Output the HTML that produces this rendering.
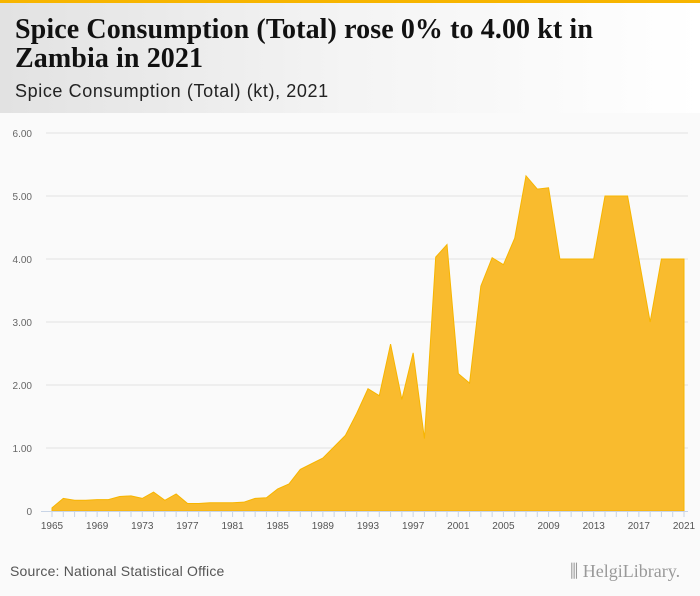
<!DOCTYPE html>
<html><head><meta charset="utf-8"><style>
body{margin:0;width:700px;height:596px;background:#fafafa;font-family:"Liberation Sans",sans-serif;overflow:hidden;position:relative}
#topbar{position:absolute;left:0;top:0;width:700px;height:3px;background:#f7b500}
#header{position:absolute;left:0;top:3px;width:700px;height:110px;background:linear-gradient(90deg,#e2e2e2 0%,#f4f4f4 50%,#fff 100%)}
#title{position:absolute;left:15px;top:12px;margin:0;font-family:"Liberation Serif",serif;font-weight:bold;font-size:28px;line-height:29px;color:#111;letter-spacing:0.1px}
#subtitle{position:absolute;left:15px;top:78px;font-size:18px;color:#222;letter-spacing:0.6px}
#source{position:absolute;left:10px;top:563px;font-size:14px;color:#555;letter-spacing:0.2px}
#logo{position:absolute;left:570px;top:561px;font-family:"Liberation Serif",serif;font-size:18px;color:#999}
</style></head><body>
<div id="topbar"></div>
<div id="header">
<h1 id="title">Spice Consumption (Total) rose 0% to 4.00 kt in<br>Zambia in 2021</h1>
<div id="subtitle">Spice Consumption (Total) (kt), 2021</div>
</div>
<svg id="chart" width="700" height="596" style="position:absolute;left:0;top:0"></svg>
<div id="source">Source: National Statistical Office</div>
<div id="logo">⫼ Helgi<span style="font-weight:normal">Library.</span></div>
<script>
const years=[];for(let y=1965;y<=2021;y++)years.push(y);
const values=[0.05,0.2,0.17,0.17,0.18,0.18,0.23,0.24,0.2,0.3,0.17,0.27,0.12,0.12,0.13,0.13,0.13,0.14,0.2,0.21,0.35,0.43,0.66,0.75,0.84,1.02,1.2,1.55,1.94,1.83,2.65,1.77,2.51,1.15,4.03,4.23,2.18,2.03,3.57,4.02,3.91,4.33,5.32,5.11,5.13,4.0,4.0,4.0,4.0,5.0,5.0,5.0,4.0,3.0,4.0,4.0,4.0];
const yTicks=[0,1,2,3,4,5,6];
const yTickLabels=["0","1.00","2.00","3.00","4.00","5.00","6.00"];
const xLabelYears=[1965,1969,1973,1977,1981,1985,1989,1993,1997,2001,2005,2009,2013,2017,2021];
const NS="http://www.w3.org/2000/svg";
const svg=document.getElementById('chart');
const X=y=>52+(y-1965)*(684-52)/56;
const Y=v=>511-v*63;
function mk(t,a){const e=document.createElementNS(NS,t);for(const k in a)e.setAttribute(k,a[k]);svg.appendChild(e);return e;}
yTicks.forEach((t,i)=>{
 if(t>0){const g=mk('line',{x1:46,x2:688,y1:Y(t),y2:Y(t),stroke:'#e3e3e3','stroke-width':1});
 
 }
 const l=mk('text',{x:32,y:Y(t)+4,'text-anchor':'end','font-size':10,fill:'#666','font-family':'Liberation Sans, sans-serif'});
 l.textContent=yTickLabels[i];
 
 
});
let d='M'+X(years[0])+','+Y(0);
years.forEach((y,i)=>{d+=' L'+X(y)+','+Y(values[i]);});
d+=' L'+X(years[years.length-1])+','+Y(0)+' Z';
const area=mk('path',{d:d,fill:'#f9bb2e',stroke:'#f7b500','stroke-width':1});


const ax=mk('line',{x1:41,x2:688,y1:511.5,y2:511.5,stroke:'#c8d4e6','stroke-width':1});


years.forEach(y=>{const t=mk('line',{x1:X(y),x2:X(y),y1:511,y2:517,stroke:'#c8d4e6','stroke-width':1});
 
 });
xLabelYears.forEach(y=>{const l=mk('text',{x:X(y),y:529,'text-anchor':'middle','font-size':10,fill:'#555','font-family':'Liberation Sans, sans-serif'});
 l.textContent=y;
 
 });
</script>
</body></html>
